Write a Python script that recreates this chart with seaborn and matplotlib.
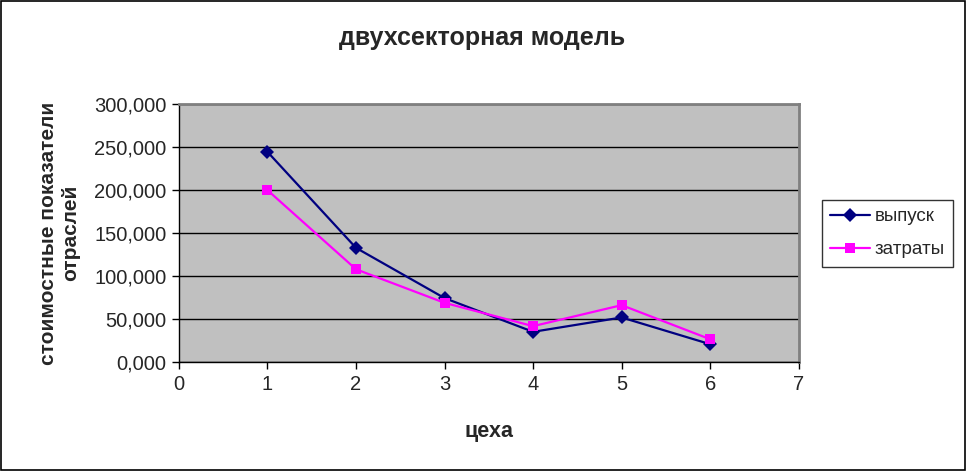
import pandas as pd
import matplotlib
matplotlib.use("Agg")
import matplotlib.pyplot as plt
import seaborn as sns
from matplotlib.ticker import FuncFormatter

# data (thousands)
workshops = [1, 2, 3, 4, 5, 6]
output = [244.5, 132.9, 74.5, 35.3, 52.0, 20.9]
costs = [200.0, 108.0, 69.0, 41.9, 66.3, 26.7]
series_names = ["выпуск", "затраты"]

df = pd.DataFrame({
    "цеха": workshops * 2,
    "value": output + costs,
    "series": [series_names[0]] * 6 + [series_names[1]] * 6,
})

sns.set_style("white")
plt.rcParams['font.family'] = ['Liberation Sans', 'DejaVu Sans']

fig = plt.figure(figsize=(9.67, 4.71), dpi=100)
ax = fig.add_axes([0.185, 0.231, 0.641, 0.548])
ax.set_facecolor("#C0C0C0")

sns.lineplot(data=df, x="цеха", y="value", hue="series", style="series",
             palette=["#000080", "#FF00FF"], markers=["D", "s"], dashes=False,
             markersize=7.5, linewidth=1.6, markeredgewidth=0, ax=ax)

ax.set_xlim(0, 7)
ax.set_ylim(0, 300)
ax.set_xticks(range(0, 8))
ax.set_yticks(range(0, 301, 50))
ax.yaxis.set_major_formatter(FuncFormatter(lambda v, p: f"{v:.3f}".replace(".", ",")))
ax.grid(axis="y", color="black", linewidth=1)
ax.set_axisbelow(True)
ax.tick_params(axis="both", direction="out", length=5, width=1, labelsize=14.5,
               bottom=True, left=True, color="black", pad=4)
for side, sp in ax.spines.items():
    sp.set_color("#808080")
    sp.set_linewidth(2)
ax.spines["left"].set_color("black")
ax.spines["left"].set_linewidth(1)
ax.spines["bottom"].set_color("black")
ax.spines["bottom"].set_linewidth(1)

ax.set_xlabel("цеха", fontsize=15.5, fontweight="bold", labelpad=20)
ax.set_ylabel("стоимостные показатели\nотраслей", fontsize=15, fontweight="bold", labelpad=10)
fig.text(0.499, 0.92, "двухсекторная модель", ha="center", va="center",
         fontsize=18, fontweight="bold")

leg = ax.legend(loc="center left", bbox_to_anchor=(0.850, 0.505), bbox_transform=fig.transFigure,
                frameon=True, fancybox=False, edgecolor="black", fontsize=13.5,
                handlelength=2.1, borderpad=0.45, labelspacing=0.85, handletextpad=0.25,
                borderaxespad=0)
leg.get_frame().set_linewidth(1)

# figure border
fig.patches.append(plt.Rectangle((0.001, 0.002), 0.997, 0.996, transform=fig.transFigure,
                                 fill=False, edgecolor="black", linewidth=1.2))

fig.savefig("out.png", dpi=100)
